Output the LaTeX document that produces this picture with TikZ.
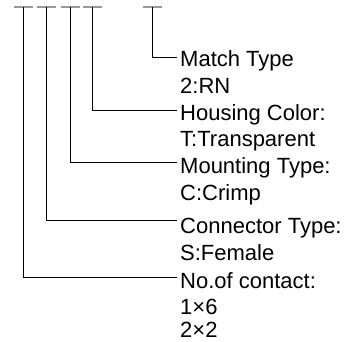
\documentclass[tikz,border=0pt]{standalone}
\usepackage{fontspec}
\setmainfont{Liberation Sans}

\begin{document}
\begin{tikzpicture}[x=1pt,y=-1pt,
    lbl/.style={anchor=base west, inner sep=0pt, font=\fontsize{22}{26}\selectfont},
    bar/.style={draw=gray!80, line width=1.5pt},
    lead/.style={draw=black, line width=0.9pt}]
  \useasboundingbox (0,0) rectangle (349,341);
  % code positions
  \coordinate (contact) at (23,7);
  \coordinate (conntype) at (46,7);
  \coordinate (mounting) at (70,7);
  \coordinate (housing) at (92,7);
  \coordinate (match) at (152,7);
  \foreach \c in {contact,conntype,mounting,housing,match}
    \draw[bar] ([xshift=-9.5pt]\c) -- ([xshift=9.5pt]\c);
  % line ends
  \coordinate (matchend) at (177,57.5);
  \coordinate (housingend) at (177,110);
  \coordinate (mountingend) at (177,162);
  \coordinate (conntypeend) at (177,220);
  \coordinate (contactend) at (177,277);
  % texts
  \node[lbl] (matchT) at (180,66) {Match Type};
  \node[lbl] (matchV) at (180,93) {2:RN};
  \node[lbl] (housingT) at (180,120) {Housing Color:};
  \node[lbl] (housingV) at (180,146) {T:Transparent};
  \node[lbl] (mountingT) at (180,173) {Mounting Type:};
  \node[lbl] (mountingV) at (180,200) {C:Crimp};
  \node[lbl] (conntypeT) at (180,233) {Connector Type:};
  \node[lbl] (conntypeV) at (180,260) {S:Female};
  \node[lbl] (contactT) at (180,288) {No.of contact:};
  \node[lbl] (contactV1) at (180,314) {1×6};
  \node[lbl, text depth=0pt] (contactV2) at (180,337) {2×2};
  % leaders
  \foreach \c in {contact,conntype,mounting,housing,match}
    \draw[lead] (\c) |- (\c end);
\end{tikzpicture}
\end{document}
